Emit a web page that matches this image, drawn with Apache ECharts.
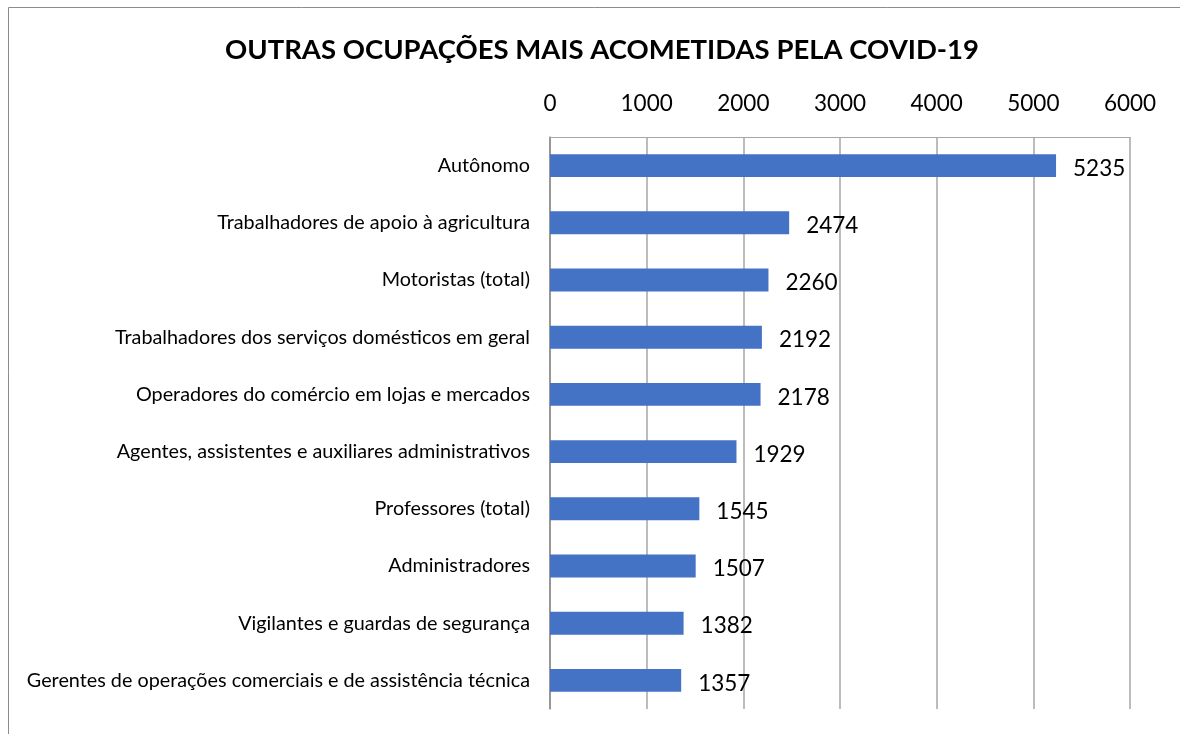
<!DOCTYPE html>
<html><head><meta charset="utf-8">
<script src="https://cdn.jsdelivr.net/npm/echarts@6/dist/echarts.min.js"></script>
<style>html,body{margin:0;padding:0;background:#fff}#c{width:1180px;height:734px}</style>
</head><body><div id="c"></div>
<script>
const categories = ["Autônomo","Trabalhadores de apoio à agricultura","Motoristas (total)","Trabalhadores dos serviços domésticos em geral","Operadores do comércio em lojas e mercados","Agentes, assistentes e auxiliares administrativos","Professores (total)","Administradores","Vigilantes e guardas de segurança","Gerentes de operações comerciais e de assistência técnica"];
const values = [5235,2474,2260,2192,2178,1929,1545,1507,1382,1357];
const FONT = "Lato";
const chart = echarts.init(document.getElementById('c'));
chart.setOption({
  animation:false,
  title:{text:"OUTRAS OCUPAÇÕES MAIS ACOMETIDAS PELA COVID-19",left:597,textAlign:'center',top:31,
    textStyle:{fontFamily:FONT,fontWeight:'bold',fontSize:27.5,color:'#000'}},
  graphic:[{type:'rect',shape:{x:8.5,y:7.5,width:1200,height:800},style:{fill:null,stroke:'#8c8c8c',lineWidth:1},silent:true}],
  grid:{left:550,right:50,top:137,bottom:25},
  xAxis:{type:'value',position:'top',min:0,max:6000,interval:1000,
    axisLine:{show:true,lineStyle:{color:'#a6a6a6'}},axisTick:{show:false},
    axisLabel:{fontFamily:FONT,fontSize:22.5,color:'#000',margin:22,formatter:v=>String(v)},
    splitLine:{show:true,lineStyle:{color:'#a6a6a6',width:1.5}}},
  yAxis:{type:'category',data:categories,inverse:true,
    axisLine:{show:true,lineStyle:{color:'#8c8c8c',width:1.5}},axisTick:{show:false},
    axisLabel:{fontFamily:FONT,fontSize:19.8,color:'#000',margin:20}},
  series:[{type:'bar',data:values,barWidth:'40%',itemStyle:{color:'#4472C4'},
    label:{show:true,position:'right',distance:17,offset:[0,3],fontFamily:FONT,fontSize:22.5,color:'#000'}}]
});
</script></body></html>
